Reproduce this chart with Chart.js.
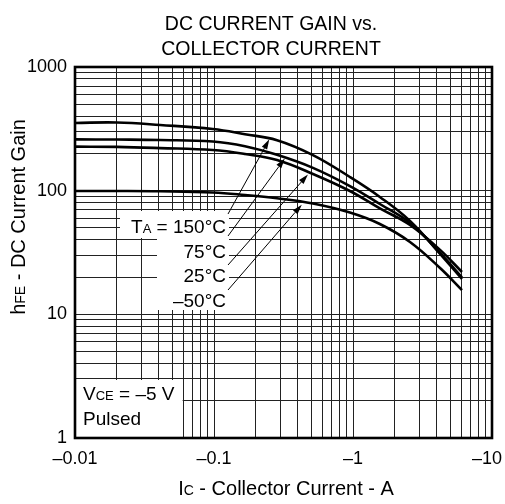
<!DOCTYPE html>
<html>
<head>
<meta charset="utf-8" />
<title>DC Current Gain vs. Collector Current</title>
<script src="https://cdn.jsdelivr.net/npm/chart.js@4.4.1/dist/chart.umd.min.js"></script>
<style>
  body { margin: 0; background: #fff; }
  #wrap { width: 505px; height: 504px; }
</style>
</head>
<body>
<div id="wrap"><canvas id="myChart"></canvas></div>
<script>
// collector current magnitude (A), axis shows it as negative
var current = [0.01, 0.02, 0.041, 0.098, 0.167, 0.284, 0.515, 0.95, 1.56, 2.57, 4.23, 6.08];

// hFE for each ambient temperature
var gain150 = [353, 356, 340, 315, 286, 256, 194, 129, 89, 57, 30.8, 19.3];
var gain75  = [260, 259, 257, 250, 229, 195, 153, 109, 78, 54.8, 31.4, 19.9];
var gain25  = [227, 226, 221, 213, 198, 177, 136.5, 99.4, 71.8, 52.8, 33.2, 22];
var gainM50 = [99.4, 99.4, 98.9, 96.7, 92.3, 86.8, 78.8, 66.6, 53.8, 38.5, 23.7, 15.7];

var tempLabels = ['150°C', '75°C', '25°C', '–50°C'];

var xTickValues = [0.01, 0.1, 1, 10];
var xTickLabels = ['–0.01', '–0.1', '–1', '–10  '];
var yTickValues = [1, 10, 100, 1000];
var yTickLabels = ['1', '10', '100', '1000'];

var FONT = '"Liberation Sans", Arial, Helvetica, sans-serif';
Chart.defaults.font.family = FONT;
Chart.defaults.color = '#000';

function logGrid(min, max) {
  var out = [];
  for (var e = Math.round(Math.log10(min)); e < Math.round(Math.log10(max)); e++) {
    for (var k = 1; k < 10; k++) {
      out.push(parseFloat((k * Math.pow(10, e)).toPrecision(6)));
    }
  }
  out.push(max);
  return out;
}

function labelFor(values, labels) {
  return function(value) {
    for (var i = 0; i < values.length; i++) {
      if (Math.abs(values[i] - value) / values[i] < 1e-6) return labels[i];
    }
    return '';
  };
}

function series(gain) {
  return current.map(function(c, i) { return {x: c, y: gain[i]}; });
}

// draws text made of [text, size] parts on one baseline
function rich(ctx, parts, x, y, align) {
  var w = 0;
  parts.forEach(function(p) { ctx.font = p[1] + 'px ' + FONT; w += ctx.measureText(p[0]).width; });
  var cx = align === 'right' ? x - w : (align === 'center' ? x - w / 2 : x);
  ctx.textAlign = 'left';
  ctx.textBaseline = 'alphabetic';
  parts.forEach(function(p) {
    ctx.font = p[1] + 'px ' + FONT;
    ctx.fillText(p[0], cx, y);
    cx += ctx.measureText(p[0]).width;
  });
}

function arrow(ctx, x0, y0, x1, y1) {
  var ang = Math.atan2(y1 - y0, x1 - x0);
  var len = 10, half = 3;
  ctx.beginPath();
  ctx.moveTo(x0, y0);
  ctx.lineTo(x1 - len * Math.cos(ang), y1 - len * Math.sin(ang));
  ctx.stroke();
  ctx.beginPath();
  ctx.moveTo(x1, y1);
  ctx.lineTo(x1 - len * Math.cos(ang) + half * Math.sin(ang), y1 - len * Math.sin(ang) - half * Math.cos(ang));
  ctx.lineTo(x1 - len * Math.cos(ang) - half * Math.sin(ang), y1 - len * Math.sin(ang) + half * Math.cos(ang));
  ctx.closePath();
  ctx.fill();
}

var annotate = {
  id: 'annotate',
  beforeDatasetsDraw: function(chart) {
    var ctx = chart.ctx, a = chart.chartArea;
    var xs = chart.scales.x, ys = chart.scales.y;
    ctx.save();
    ctx.fillStyle = '#fff';
    // white boxes behind the temperature labels
    ctx.fillRect(120, 211, 109, 27);
    ctx.fillRect(157, 238, 72, 72);
    // box behind VCE note
    var top = ys.getPixelForValue(3) + 1;
    ctx.fillRect(a.left, top, xs.getPixelForValue(0.06) - a.left - 0.5, a.bottom - top);
    ctx.restore();
  },
  afterDatasetsDraw: function(chart) {
    var ctx = chart.ctx;
    var xs = chart.scales.x, ys = chart.scales.y;
    ctx.save();
    ctx.fillStyle = '#000';
    ctx.strokeStyle = '#000';
    ctx.lineWidth = 1;

    rich(ctx, [['T', 19], ['A', 13], [' = ' + tempLabels[0], 19]], 226, 233, 'right');
    rich(ctx, [[tempLabels[1], 19]], 226, 258, 'right');
    rich(ctx, [[tempLabels[2], 19]], 226, 282, 'right');
    rich(ctx, [[tempLabels[3], 19]], 226, 307, 'right');

    var starts = [[228, 214], [228, 236], [228, 265], [228, 290]];
    var tips = [[0.25, 260], [0.323, 182], [0.474, 135], [0.428, 77]];
    for (var i = 0; i < 4; i++) {
      arrow(ctx, starts[i][0], starts[i][1], xs.getPixelForValue(tips[i][0]), ys.getPixelForValue(tips[i][1]));
    }

    rich(ctx, [['V', 19], ['CE', 13], [' = –5 V', 19]], 83, 400, 'left');
    rich(ctx, [['Pulsed', 19]], 83, 425, 'left');
    ctx.restore();
  },
  afterDraw: function(chart) {
    var ctx = chart.ctx, a = chart.chartArea;
    ctx.save();
    ctx.strokeStyle = '#000';
    ctx.lineWidth = 2.6;
    ctx.strokeRect(a.left, a.top, a.right - a.left, a.bottom - a.top);

    ctx.fillStyle = '#000';
    rich(ctx, [['DC CURRENT GAIN vs.', 19.5]], 271, 30, 'center');
    rich(ctx, [['COLLECTOR CURRENT', 19.5]], 271, 55, 'center');

    rich(ctx, [['I', 20], ['C', 14], [' - Collector Current - A', 20]], 286, 495, 'center');

    ctx.translate(25, 217);
    ctx.rotate(-Math.PI / 2);
    rich(ctx, [['h', 20], ['FE', 14], [' - DC Current Gain', 20]], 0, 0, 'center');
    ctx.restore();
  }
};

var ctx = document.getElementById('myChart').getContext('2d');
var chart = new Chart(ctx, {
  type: 'line',
  data: {
    datasets: [
      { label: tempLabels[0], data: series(gain150) },
      { label: tempLabels[1], data: series(gain75) },
      { label: tempLabels[2], data: series(gain25) },
      { label: tempLabels[3], data: series(gainM50) }
    ]
  },
  options: {
    responsive: true,
    maintainAspectRatio: false,
    animation: false,
    layout: { padding: { top: 67, right: 13, bottom: 0, left: 0 } },
    elements: {
      line: { borderColor: '#000', borderWidth: 2.6, tension: 0.4, fill: false },
      point: { radius: 0 }
    },
    plugins: {
      legend: { display: false },
      tooltip: { enabled: false },
      title: { display: false }
    },
    scales: {
      x: {
        type: 'logarithmic',
        min: 0.01,
        max: 10,
        afterBuildTicks: function(scale) {
          scale.ticks = logGrid(0.01, 10).map(function(v) { return {value: v}; });
        },
        afterFit: function(scale) {
          scale.height = 66;
          scale.paddingLeft = 0;
          scale.paddingRight = 0;
        },
        grid: { color: '#222', lineWidth: 1, drawTicks: false },
        border: { display: false },
        ticks: {
          autoSkip: false, maxRotation: 0, minRotation: 0, padding: 10,
          font: { size: 18 }, color: '#000',
          callback: labelFor(xTickValues, xTickLabels)
        }
      },
      y: {
        type: 'logarithmic',
        min: 1,
        max: 1000,
        afterBuildTicks: function(scale) {
          scale.ticks = logGrid(1, 1000).map(function(v) { return {value: v}; });
        },
        afterFit: function(scale) {
          scale.width = 75;
          scale.paddingTop = 0;
          scale.paddingBottom = 0;
        },
        grid: { color: '#222', lineWidth: 1, drawTicks: false },
        border: { display: false },
        ticks: {
          autoSkip: false, padding: 8,
          font: { size: 18 }, color: '#000',
          callback: labelFor(yTickValues, yTickLabels)
        }
      }
    }
  },
  plugins: [annotate]
});
</script>
</body>
</html>
